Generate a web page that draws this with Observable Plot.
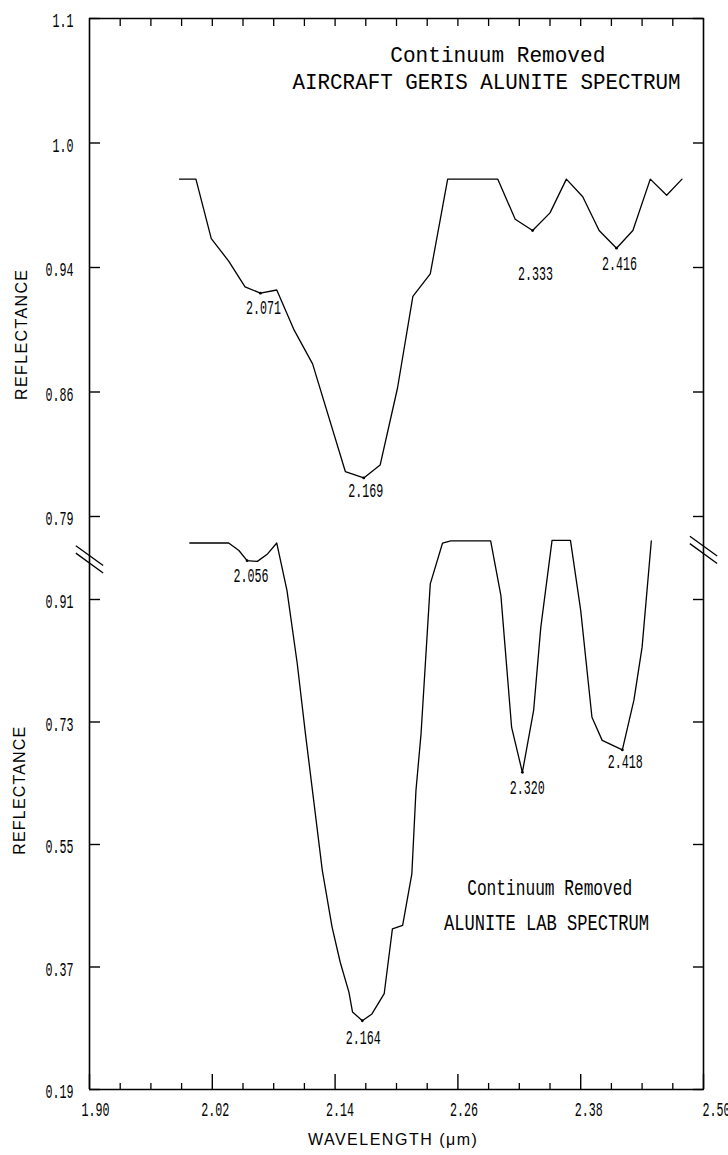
<!DOCTYPE html>
<html><head><meta charset="utf-8">
<script src="https://cdn.jsdelivr.net/npm/d3@7"></script>
<script src="https://cdn.jsdelivr.net/npm/@observablehq/plot@0.6"></script>
<style>
html,body{margin:0;padding:0;background:#fff;}
#chart{position:relative;width:728px;height:1155px;overflow:hidden;background:#fff;}
#chart svg{position:absolute;left:0;overflow:visible;}
</style></head><body><div id="chart"></div>
<script>
// ---- data ----
const gerisWavelength = [1.988, 2.004, 2.019, 2.036, 2.052, 2.067, 2.083, 2.100, 2.118, 2.150, 2.168, 2.184, 2.201, 2.216, 2.233, 2.250, 2.284, 2.299, 2.316, 2.333, 2.350, 2.366, 2.382, 2.398, 2.415, 2.431, 2.448, 2.464, 2.479];
const gerisReflectance = [1.000, 1.000, 0.963, 0.949, 0.933, 0.929, 0.931, 0.906, 0.885, 0.818, 0.814, 0.822, 0.870, 0.927, 0.941, 1.000, 1.000, 1.000, 0.975, 0.968, 0.979, 1.000, 0.989, 0.968, 0.957, 0.968, 1.000, 0.990, 1.000];
const labWavelength = [1.998, 2.036, 2.046, 2.054, 2.064, 2.074, 2.083, 2.093, 2.103, 2.111, 2.1275, 2.137, 2.145, 2.1535, 2.157, 2.1666, 2.176, 2.188, 2.196, 2.206, 2.215, 2.219, 2.224, 2.233, 2.245, 2.253, 2.292, 2.302, 2.3125, 2.323, 2.334, 2.341, 2.352, 2.370, 2.380, 2.391, 2.401, 2.4207, 2.432, 2.440, 2.449];
const labReflectance = [0.993, 0.993, 0.982, 0.967, 0.966, 0.977, 0.993, 0.923, 0.816, 0.713, 0.512, 0.429, 0.377, 0.333, 0.304, 0.291, 0.301, 0.331, 0.426, 0.431, 0.507, 0.629, 0.713, 0.933, 0.993, 0.996, 0.996, 0.916, 0.722, 0.656, 0.747, 0.869, 0.997, 0.997, 0.894, 0.737, 0.703, 0.689, 0.762, 0.840, 0.996];
const gerisMinLabels = ["2.071", "2.169", "2.333", "2.416"];
const labMinLabels = ["2.056", "2.164", "2.320", "2.418"];
const xMajorTicks = [1.90, 2.02, 2.14, 2.26, 2.38, 2.50];
const xMajorLabels = ["1.90", "2.02", "2.14", "2.26", "2.38", "2.50"];
const xMinorTicks = [1.93, 1.96, 1.99, 2.05, 2.08, 2.11, 2.17, 2.20, 2.23, 2.29, 2.32, 2.35, 2.41, 2.44, 2.47];
const xTopTicks = [1.93, 1.96, 1.99, 2.02, 2.05, 2.08, 2.11, 2.14, 2.17, 2.20, 2.23, 2.26, 2.29, 2.32, 2.35, 2.38, 2.41, 2.44, 2.47];
const gerisYTicks = [1.10, 1.0225, 0.945, 0.8675, 0.79];
const gerisYTickLabels = ["1.1", "1.0", "0.94", "0.86", "0.79"];
const labYTicks = [0.91, 0.73, 0.55, 0.37, 0.19];
const labYTickLabels = ["0.91", "0.73", "0.55", "0.37", "0.19"];
const gerisTitle = ["Continuum Removed", "AIRCRAFT GERIS ALUNITE SPECTRUM"];
const labTitle = ["Continuum Removed", "ALUNITE LAB SPECTRUM"];
const yLabel = "REFLECTANCE";
const xLabel = "WAVELENGTH (\u03bcm)";

// ---- build ----
const ink = "#000";
const mono = "Liberation Mono, DejaVu Sans Mono, monospace";
const sans = "Liberation Sans, Arial, sans-serif";
const geris = gerisWavelength.map((w, i) => ({w, r: gerisReflectance[i]}));
const lab = labWavelength.map((w, i) => ({w, r: labReflectance[i]}));
const nearest = (series, label) => ({...d3.least(series, d => Math.abs(d.w - (+label))), label});
const gerisMins = gerisMinLabels.map(l => nearest(geris, l));
const labMins = labMinLabels.map(l => nearest(lab, l));
const fmt = (vals, labels) => d => { const i = vals.indexOf(d); return i < 0 ? "" : labels[i]; };
const blank = () => "";

const breakSymbol = {
  draw(ctx, size) {
    const s = Math.sqrt(size);
    const hx = 0.55 * s, hy = 0.4 * s, g = 0.15 * s;
    ctx.moveTo(-hx, -hy - g); ctx.lineTo(hx, hy - g);
    ctx.moveTo(-hx, -hy + g); ctx.lineTo(hx, hy + g);
  }
};

const W = 728, SPLIT = 552, ML = 89, MR = 25;
const TICK_FS = 21, ANNOT_FS = 20, TITLE_FS = 22;
const baseStyle = {fontFamily: mono, fontSize: TICK_FS + "px", overflow: "visible", background: "transparent", color: ink};

function fitTexts(svg, sizes) {
  svg.querySelectorAll("text").forEach(t => {
    const s = t.textContent;
    if (!s) return;
    if (s in sizes) { t.setAttribute("textLength", sizes[s][0]); t.setAttribute("lengthAdjust", sizes[s][1]); }
    else { t.setAttribute("textLength", s.length * 7); t.setAttribute("lengthAdjust", "spacingAndGlyphs"); }
  });
}

const gerisDx = [3, 2, 3, 3], gerisDy = [14, 13, 43, 15];
const labDx = [4, 1, 5, 3], labDy = [15, 17, 15, 12];
const xLabelDx = [6, 3, 5, 6, 8, 13];

const topSvg = Plot.plot({
  width: W, height: SPLIT, marginLeft: ML, marginRight: MR, marginTop: 18, marginBottom: SPLIT - 516,
  x: {domain: [1.90, 2.50]}, y: {domain: [0.79, 1.10]},
  style: baseStyle,
  marks: [
    Plot.ruleY([1.10], {stroke: ink, strokeWidth: 1.6}),
    Plot.ruleX([1.90, 2.50], {stroke: ink, strokeWidth: 1.6, insetBottom: -(SPLIT - 516)}),
    Plot.axisX(xTopTicks, {anchor: "top", tickSize: 7, dy: 7, tickFormat: blank, label: null, strokeWidth: 1.3}),
    Plot.axisY(gerisYTicks, {anchor: "left", tickSize: 11, dx: 11, tickFormat: blank, label: null, strokeWidth: 1.4}),
    Plot.axisY(gerisYTicks, {anchor: "left", tickSize: 0, tickPadding: 16, dy: 2, tickFormat: fmt(gerisYTicks, gerisYTickLabels), label: null, fontSize: TICK_FS}),
    Plot.axisY(gerisYTicks, {anchor: "right", tickSize: 11, dx: -11, tickFormat: blank, label: null, strokeWidth: 1.4}),
    Plot.line(geris, {x: "w", y: "r", stroke: ink, strokeWidth: 1.3}),
    Plot.dot(gerisMins, {x: "w", y: "r", r: 1.4, fill: ink}),
    ...gerisMins.map((m, i) => Plot.text([m], {x: "w", y: "r", text: "label", dx: gerisDx[i], dy: gerisDy[i], fontSize: ANNOT_FS, lineAnchor: "middle"})),
    Plot.text([gerisTitle[0]], {x: 2.299, y: 1.077, text: d => d, fontSize: TITLE_FS, lineAnchor: "middle"}),
    Plot.text([gerisTitle[1]], {x: 2.288, y: 1.0605, text: d => d, fontSize: TITLE_FS, lineAnchor: "middle"}),
    Plot.text([yLabel], {x: 1.90, y: 0.903, dx: -68, rotate: -90, text: d => d, fontFamily: sans, fontSize: 16, lineAnchor: "middle"})
  ]
});
topSvg.style.top = "0px";
fitTexts(topSvg, {
  [gerisTitle[0]]: [215, "spacingAndGlyphs"],
  [gerisTitle[1]]: [388, "spacingAndGlyphs"],
  [yLabel]: [130, "spacing"]
});

const botH = 1155 - SPLIT;
const bottomSvg = Plot.plot({
  width: W, height: botH, marginLeft: ML, marginRight: MR, marginTop: 599 - SPLIT, marginBottom: botH - (1089 - SPLIT),
  x: {domain: [1.90, 2.50]}, y: {domain: [0.19, 0.91]},
  style: baseStyle,
  marks: [
    Plot.ruleY([0.19], {stroke: ink, strokeWidth: 1.6}),
    Plot.ruleX([1.90, 2.50], {stroke: ink, strokeWidth: 1.6, insetTop: -(599 - SPLIT)}),
    Plot.axisX(xMinorTicks, {anchor: "bottom", tickSize: 6, dy: -6, tickFormat: blank, label: null, strokeWidth: 1.3}),
    Plot.axisX(xMajorTicks, {anchor: "bottom", tickSize: 15, dy: -15, tickFormat: blank, label: null, strokeWidth: 1.4}),
    ...xMajorTicks.map((t, i) => Plot.text([t], {x: d => d, y: 0.19, text: () => xMajorLabels[i], dx: xLabelDx[i], dy: 20, fontSize: TICK_FS, lineAnchor: "middle"})),
    Plot.axisY(labYTicks, {anchor: "left", tickSize: 11, dx: 11, tickFormat: blank, label: null, strokeWidth: 1.4}),
    Plot.axisY(labYTicks, {anchor: "left", tickSize: 0, tickPadding: 16, dy: 2, tickFormat: fmt(labYTicks, labYTickLabels), label: null, fontSize: TICK_FS}),
    Plot.axisY(labYTicks, {anchor: "right", tickSize: 11, dx: -11, tickFormat: blank, label: null, strokeWidth: 1.4}),
    Plot.dot([{x: 1.90, y: 0.969}, {x: 2.50, y: 0.983}], {x: "x", y: "y", r: 14, symbol: breakSymbol, fill: "none", stroke: ink, strokeWidth: 1.3}),
    Plot.line(lab, {x: "w", y: "r", stroke: ink, strokeWidth: 1.3}),
    Plot.dot(labMins, {x: "w", y: "r", r: 1.4, fill: ink}),
    ...labMins.map((m, i) => Plot.text([m], {x: "w", y: "r", text: "label", dx: labDx[i], dy: labDy[i], fontSize: ANNOT_FS, lineAnchor: "middle"})),
    Plot.text([labTitle[0]], {x: 2.3497, y: 0.486, text: d => d, fontSize: TITLE_FS, lineAnchor: "middle"}),
    Plot.text([labTitle[1]], {x: 2.3467, y: 0.4354, text: d => d, fontSize: TITLE_FS, lineAnchor: "middle"}),
    Plot.text([yLabel], {x: 1.90, y: 0.629, dx: -70, rotate: -90, text: d => d, fontFamily: sans, fontSize: 16, lineAnchor: "middle"}),
    Plot.text([xLabel], {x: 2.196, y: 0.19, dy: 50, text: d => d, fontFamily: sans, fontSize: 16, lineAnchor: "middle"})
  ]
});
bottomSvg.style.top = SPLIT + "px";
fitTexts(bottomSvg, {
  [labTitle[0]]: [165, "spacingAndGlyphs"],
  [labTitle[1]]: [205, "spacingAndGlyphs"],
  [yLabel]: [128, "spacing"],
  [xLabel]: [169, "spacing"]
});

const chart = document.getElementById("chart");
chart.appendChild(topSvg);
chart.appendChild(bottomSvg);
</script>
</body></html>
